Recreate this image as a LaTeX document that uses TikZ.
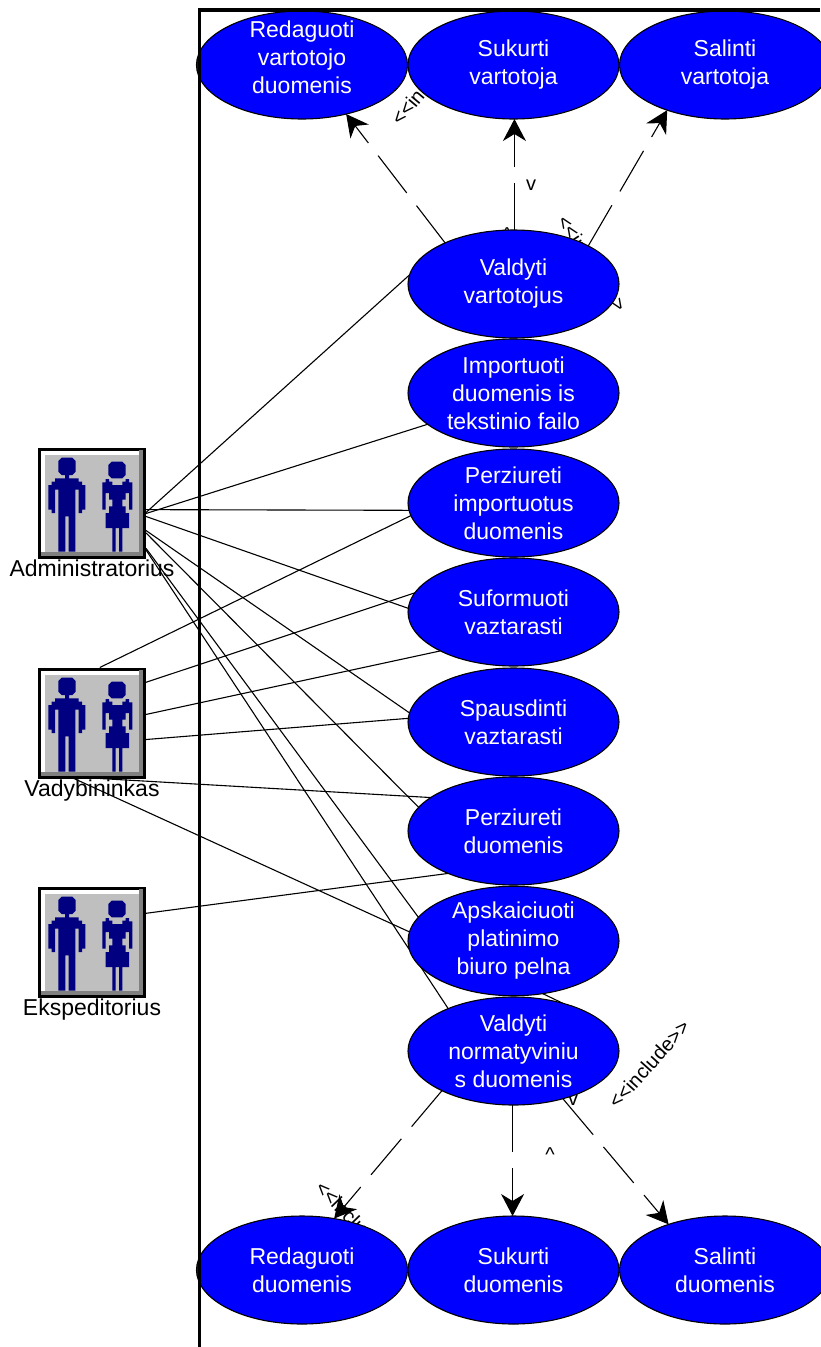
\documentclass[tikz,border=0pt]{standalone}
\usepackage{fontspec}
\setmainfont{Liberation Sans}
\usetikzlibrary{arrows.meta,backgrounds,positioning,shapes.geometric}
\definecolor{iconblue}{RGB}{0,0,128}
\tikzstyle{usecase}=[ellipse,draw=black,fill=blue,text=white,line width=1.1pt,minimum width=211pt,minimum height=108pt,inner sep=0pt,outer sep=0pt,align=center,font=\fontsize{23}{28}\selectfont]
\tikzstyle{actor}=[rectangle,draw=black,fill=white,line width=3pt,minimum width=105pt,minimum height=108pt,inner sep=0pt,outer sep=1.5pt]
\tikzstyle{actorname}=[inner sep=0pt,font=\fontsize{23}{26}\selectfont]
\tikzstyle{assoc}=[line width=1.1pt]
\tikzstyle{incl}=[line width=1.1pt,dash pattern=on 47pt off 16pt,-{Stealth[length=22pt,width=23pt,inset=7pt]}]
\tikzstyle{tag}=[inner sep=0pt,font=\fontsize{20}{24}\selectfont]
\newcommand{\incltext}{<{}<include>{}>}
\tikzset{people/.pic={
  \begin{scope}[scale=1/3,shift={(-275,-220)}]
    \fill[black!50] (416,62) rectangle (428,380);
    \fill[black!50] (122,366) rectangle (428,380);
    \fill[black!25] (135,75) rectangle (416,366);
    \fill[iconblue] (184,84)--(216,84)--(226,94)--(226,126)--(216,136)--(206,136)--(206,146)--(235,146)--(235,156)--(245,156)--(245,166)--(255,166)--(255,240)--(245,240)--(245,250)--(235,250)--(235,180)--(225,180)--(225,366)--(205,366)--(205,260)--(195,260)--(195,366)--(174,366)--(174,180)--(164,180)--(164,250)--(154,250)--(154,240)--(144,240)--(144,166)--(154,166)--(154,156)--(164,156)--(164,146)--(194,146)--(194,136)--(184,136)--(174,126)--(174,94)--cycle;
    \fill[iconblue] (334,96)--(366,96)--(376,106)--(376,136)--(366,146)--(334,146)--(324,136)--(324,106)--cycle;
    \fill[iconblue] (316,148)--(326,148)--(326,156)--(336,156)--(336,166)--(366,166)--(366,156)--(376,156)--(376,148)--(386,148)--(386,158)--(396,158)--(396,240)--(386,240)--(386,190)--(376,190)--(376,210)--(366,210)--(366,230)--(376,230)--(376,250)--(386,250)--(386,295)--(366,295)--(366,366)--(356,366)--(356,295)--(346,295)--(346,366)--(336,366)--(336,295)--(316,295)--(316,250)--(326,250)--(326,230)--(336,230)--(336,210)--(326,210)--(326,190)--(316,190)--(316,240)--(306,240)--(306,158)--(316,158)--cycle;
  \end{scope}
}}

\begin{document}
\begin{tikzpicture}[x=1pt,y=-1pt]
\useasboundingbox (0,0) rectangle (820,1347);
% use cases
\node[usecase,inner ysep=-15pt] (redv) at (302,65) {Redaguoti\\vartotojo\\duomenis\\[-12pt]\mbox{}};
\node[usecase] (sukv) at (513.5,65) {Sukurti\\vartotoja};
\node[usecase] (salv) at (725,65) {Salinti\\vartotoja};
\node[usecase] (valdv) at (513.5,284) {Valdyti\\vartotojus};
\node[usecase] (impo) at (513.5,393) {Importuoti\\duomenis is\\tekstinio failo};
\node[usecase] (perzi) at (513.5,503) {Perziureti\\importuotus\\duomenis};
\node[usecase] (sufo) at (513.5,612) {Suformuoti\\vaztarasti};
\node[usecase] (spau) at (513.5,722) {Spausdinti\\vaztarasti};
\node[usecase] (perzd) at (513.5,831) {Perziureti\\duomenis};
\node[usecase] (apsk) at (513.5,941) {Apskaiciuoti\\platinimo\\biuro pelna};
\node[usecase] (valdn) at (513.5,1051) {Valdyti\\normatyviniu\\s duomenis};
\node[usecase] (redd) at (302,1270) {Redaguoti\\duomenis};
\node[usecase] (sukd) at (513.5,1270) {Sukurti\\duomenis};
\node[usecase] (sald) at (725,1270) {Salinti\\duomenis};
% actors
\node[actor] (admin) at (92,503) {};
\pic at (admin.center) {people};
\node[actorname,below=1.5pt of admin] (adminname) {Administratorius};
\node[actor] (vady) at (92,723) {};
\pic at (vady.center) {people};
\node[actorname,below=1.5pt of vady] (vadyname) {Vadybininkas};
\node[actor] (eksp) at (92,942) {};
\pic at (eksp.center) {people};
\node[actorname,below=1.5pt of eksp] (ekspname) {Ekspeditorius};
% connectors go under the ellipses
\begin{scope}[on background layer]
\draw[assoc] (admin.-10) -- (valdv.175);
\draw[assoc] (admin.-11) -- (impo.200);
\draw[assoc] (admin.-7) -- (perzi.184);
\draw[assoc] (admin.-14) -- (sufo.178);
\draw[assoc] (admin.-27) -- (spau.175);
\draw[assoc] (admin.-29) -- (perzd.166);
\draw[assoc] (admin.-40) -- (apsk.166);
\draw[assoc] (admin.-41) -- (valdn.147);
\draw[assoc] (vady.82) -- (perzi.187);
\draw[assoc] (vady.37) -- (sufo.169);
\draw[assoc] (vady.9) -- (sufo.208);
\draw[assoc] (vady.-17) -- (spau.178);
\draw[assoc] (vady.-82) -- (perzd.158);
\draw[assoc] (vady.-108) -- (apsk.175);
\draw[assoc] (eksp.28) -- (perzd.213);
\draw[assoc] (apsk.-61) -- (valdn.44);
\draw[incl] (valdv.149) -- (redv.-48);
\draw[incl] (valdv.89) -- (sukv.-89);
\draw[incl] (valdv.27) -- (salv.218);
\draw[incl] (valdn.209) -- (redd.58);
\draw[incl] (valdn.269) -- (sukd.91);
\draw[incl] (valdn.-44) -- (sald.141);
% labels of the include arrows
\node[tag,rotate=50,anchor=west] (t1) at (395,122) {\incltext};
\node[tag] (t2) at (531,185) {v};
\node[tag] (t3) at (507,235) {\textasciicircum};
\node[tag,rotate=-57,anchor=west] (t4) at (562,217) {\incltext};
\node[tag,rotate=-46,anchor=west] (t6) at (319,1184) {\incltext};
\node[tag] (t7) at (550,1155) {\textasciicircum};
\node[tag] (t8) at (573,1100) {v};
\node[tag,rotate=48] (t9) at (649,1064) {\incltext};
\end{scope}
% system boundary
\coordinate (bndbottom) at (199.5,1347);
\coordinate (bndright) at (820,10);
\draw[line width=3.4pt] (bndbottom) |- (bndright);
\end{tikzpicture}
\end{document}
